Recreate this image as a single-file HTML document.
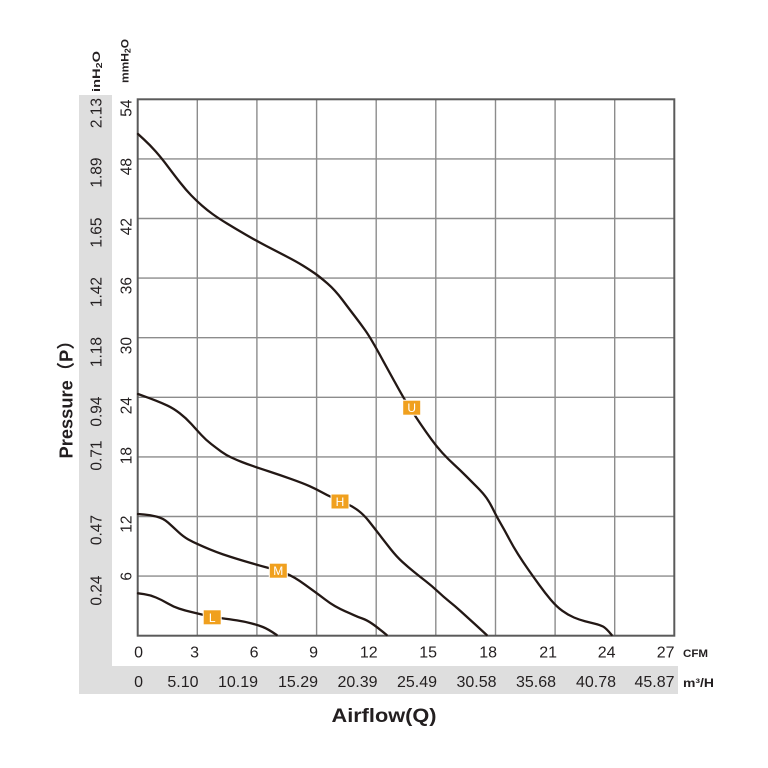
<!DOCTYPE html>
<html><head><meta charset="utf-8"><style>
html,body{margin:0;padding:0;background:#fff;}
svg{display:block;}
text{font-family:"Liberation Sans","Noto Sans CJK SC",sans-serif;fill:#231f20;}
</style></head><body>
<svg width="768" height="768" viewBox="0 0 768 768" xmlns="http://www.w3.org/2000/svg">
<rect x="0" y="0" width="768" height="768" fill="#fff"/>
<!-- grey strips -->
<rect x="79" y="95" width="33" height="599" fill="#dedede"/>
<rect x="79" y="666" width="599" height="28" fill="#dedede"/>
<rect x="112" y="95" width="566" height="571" fill="#fff"/>
<!-- grid -->
<g stroke="#8c8c8c" stroke-width="1.4" fill="none">
<line x1="197.3" y1="99.3" x2="197.3" y2="635.7"/>
<line x1="256.9" y1="99.3" x2="256.9" y2="635.7"/>
<line x1="316.6" y1="99.3" x2="316.6" y2="635.7"/>
<line x1="376.2" y1="99.3" x2="376.2" y2="635.7"/>
<line x1="435.8" y1="99.3" x2="435.8" y2="635.7"/>
<line x1="495.5" y1="99.3" x2="495.5" y2="635.7"/>
<line x1="555.1" y1="99.3" x2="555.1" y2="635.7"/>
<line x1="614.7" y1="99.3" x2="614.7" y2="635.7"/>
<line x1="137.7" y1="576.1" x2="674.3" y2="576.1"/>
<line x1="137.7" y1="516.5" x2="674.3" y2="516.5"/>
<line x1="137.7" y1="456.9" x2="674.3" y2="456.9"/>
<line x1="137.7" y1="397.3" x2="674.3" y2="397.3"/>
<line x1="137.7" y1="337.7" x2="674.3" y2="337.7"/>
<line x1="137.7" y1="278.1" x2="674.3" y2="278.1"/>
<line x1="137.7" y1="218.5" x2="674.3" y2="218.5"/>
<line x1="137.7" y1="158.9" x2="674.3" y2="158.9"/>
</g>
<rect x="137.7" y="99.3" width="536.6" height="536.4" fill="none" stroke="#5a5a5a" stroke-width="2"/>
<!-- curves -->
<g fill="none" stroke="#231815" stroke-width="2.3" stroke-linejoin="round" stroke-linecap="round">
<path d="M138,134 L144,139.5 Q150,145 155.85,151.65 Q161.7,158.3 168.35,167.15 Q175,176 180.5,183 Q186,190 191.35,195.5 Q196.7,201 201.85,205.5 Q207,210 212.5,214 Q218,218 227,223.5 Q236,229 246.35,235 Q256.7,241 266.35,246 Q276,251 286.35,256.35 Q296.7,261.7 303.35,265.85 Q310,270 315,273.5 Q320,277 327.5,283.5 Q335,290 342.5,300 Q350,310 355,316.5 Q360,323 365,330 Q370,337 378,351.5 Q386,366 394.5,381.5 Q403,397 406.5,402.5 Q410,408 413.35,413.15 Q416.7,418.3 421.35,425.15 Q426,432 431.35,439.35 Q436.7,446.7 442.35,452.85 Q448,459 454,464.5 Q460,470 466,476 Q472,482 477.65,487.65 Q483.3,493.3 486.65,498.15 Q490,503 493.35,509.85 Q496.7,516.7 500.85,523.85 Q505,531 509.15,538.85 Q513.3,546.7 518.15,554.35 Q523,562 528.15,569.35 Q533.3,576.7 539.15,584.85 Q545,593 550.85,599.85 Q556.7,606.7 562.35,610.85 Q568,615 574,617.5 Q580,620 585,621.25 Q590,622.5 595,623.75 Q600,625 603,626.5 Q606,628 611.7,635"/>
<path d="M138,394 L144,396.15 Q150,398.3 156,400.65 Q162,403 167.65,405.65 Q173.3,408.3 179.65,413.15 Q186,418 191.35,424 Q196.7,430 201.35,435 Q206,440 211.35,444.15 Q216.7,448.3 221.35,451.65 Q226,455 231.35,457.5 Q236.7,460 241.85,462 Q247,464 252.35,465.85 Q257.7,467.7 268.85,471.35 Q280,475 291.65,479.15 Q303.3,483.3 309.65,486.15 Q316,489 321.35,492 Q326.7,495 333.35,498 Q340,501 346.65,503.85 Q353.3,506.7 358.65,510.85 Q364,515 368.65,520.85 Q373.3,526.7 379.15,534.35 Q385,542 390.85,549.35 Q396.7,556.7 402.35,561.85 Q408,567 414,571.85 Q420,576.7 426,581.35 Q432,586 437.65,591.35 Q443.3,596.7 449.15,601.35 Q455,606 460.85,611.35 Q466.7,616.7 471.85,621.35 Q477,626 486.7,635"/>
<path d="M138,514 L144,514.5 Q150,515 156.65,516.65 Q163.3,518.3 168.15,522.65 Q173,527 178.15,531.85 Q183.3,536.7 188.15,539.35 Q193,542 198.15,544.35 Q203.3,546.7 209.65,549.35 Q216,552 223,554.35 Q230,556.7 237,558.85 Q244,561 250.85,563 Q257.7,565 267.85,567.75 Q278,570.5 284,572.75 Q290,575 295,578 Q300,581 305,584.65 Q310,588.3 315,591.9 Q320,595.5 325,599.4 Q330,603.3 335,606.15 Q340,609 345,611.15 Q350,613.3 354,615.15 Q358,617 362.35,618.5 Q366.7,620 371.85,623.5 Q377,627 386.7,635"/>
<path d="M138,593.3 L144,594.15 Q150,595 156,597.5 Q162,600 167.65,603.35 Q173.3,606.7 179.15,608.6 Q185,610.5 190.85,611.9 Q196.7,613.3 204.35,615.15 Q212,617 221,618.15 Q230,619.3 237,620.4 Q244,621.5 250.85,623.25 Q257.7,625 262.85,627 Q268,629 276.7,635"/>
</g>
<!-- curve labels -->
<g stroke="#fff" stroke-width="1" fill="#f0a01e">
<rect x="402.7" y="400.2" width="18" height="15"/>
<rect x="331" y="494" width="18" height="15"/>
<rect x="269.3" y="563.2" width="18" height="15"/>
<rect x="203.2" y="609.8" width="18" height="15"/>
</g>
<g font-size="12" text-anchor="middle">
<text x="411.7" y="412.2" style="fill:#fff">U</text>
<text x="340" y="506" style="fill:#fff">H</text>
<text x="278.3" y="575.2" style="fill:#fff">M</text>
<text x="212.2" y="621.8" style="fill:#fff">L</text>
</g>
<!-- mmH2O tick labels -->
<g font-size="15.5" text-anchor="end">
<text transform="translate(131.5,99.5) rotate(-90)">54</text>
<text transform="translate(131.5,158) rotate(-90)">48</text>
<text transform="translate(131.5,218) rotate(-90)">42</text>
<text transform="translate(131.5,277) rotate(-90)">36</text>
<text transform="translate(131.5,337) rotate(-90)">30</text>
<text transform="translate(131.5,397) rotate(-90)">24</text>
<text transform="translate(131.5,447) rotate(-90)">18</text>
<text transform="translate(131.5,515.5) rotate(-90)">12</text>
<text transform="translate(131.5,572) rotate(-90)">6</text>
</g>
<!-- inH2O tick labels -->
<g font-size="15.5" text-anchor="end">
<text transform="translate(101.5,98) rotate(-90)">2.13</text>
<text transform="translate(101.5,157.5) rotate(-90)">1.89</text>
<text transform="translate(101.5,217.5) rotate(-90)">1.65</text>
<text transform="translate(101.5,277) rotate(-90)">1.42</text>
<text transform="translate(101.5,337) rotate(-90)">1.18</text>
<text transform="translate(101.5,396.5) rotate(-90)">0.94</text>
<text transform="translate(101.5,440.5) rotate(-90)">0.71</text>
<text transform="translate(101.5,515) rotate(-90)">0.47</text>
<text transform="translate(101.5,575.5) rotate(-90)">0.24</text>
</g>
<!-- headers -->
<text transform="translate(100,92) rotate(-90)" font-size="11" font-weight="bold" textLength="41" lengthAdjust="spacingAndGlyphs">inH<tspan font-size="8" dy="2">2</tspan><tspan dy="-2">O</tspan></text>
<text transform="translate(128.5,83) rotate(-90)" font-size="11" font-weight="bold" textLength="44" lengthAdjust="spacingAndGlyphs">mmH<tspan font-size="8" dy="2">2</tspan><tspan dy="-2">O</tspan></text>
<!-- CFM row -->
<g font-size="16" text-anchor="end">
<text x="143" y="657.5">0</text>
<text x="199" y="657.5">3</text>
<text x="258.5" y="657.5">6</text>
<text x="318" y="657.5">9</text>
<text x="377.7" y="657.5">12</text>
<text x="437" y="657.5">15</text>
<text x="497" y="657.5">18</text>
<text x="557" y="657.5">21</text>
<text x="615.5" y="657.5">24</text>
<text x="674.5" y="657.5">27</text>
</g>
<!-- m3/H row -->
<g font-size="16" text-anchor="end">
<text x="143" y="687">0</text>
<text x="198.5" y="687">5.10</text>
<text x="258" y="687">10.19</text>
<text x="318" y="687">15.29</text>
<text x="377.5" y="687">20.39</text>
<text x="437" y="687">25.49</text>
<text x="496.5" y="687">30.58</text>
<text x="556" y="687">35.68</text>
<text x="616" y="687">40.78</text>
<text x="674.5" y="687">45.87</text>
</g>
<text x="683" y="657" font-size="11" font-weight="bold" textLength="25" lengthAdjust="spacingAndGlyphs">CFM</text>
<text x="683" y="687" font-size="12" font-weight="bold" textLength="31" lengthAdjust="spacingAndGlyphs">m³/H</text>
<!-- axis titles -->
<text transform="translate(72.5,395) rotate(-90)" font-size="18" font-weight="bold" text-anchor="middle" textLength="127" lengthAdjust="spacingAndGlyphs">Pressure（P）</text>
<text x="384" y="722" font-size="19" font-weight="bold" text-anchor="middle" textLength="105" lengthAdjust="spacingAndGlyphs">Airflow(Q)</text>
</svg>
</body></html>
